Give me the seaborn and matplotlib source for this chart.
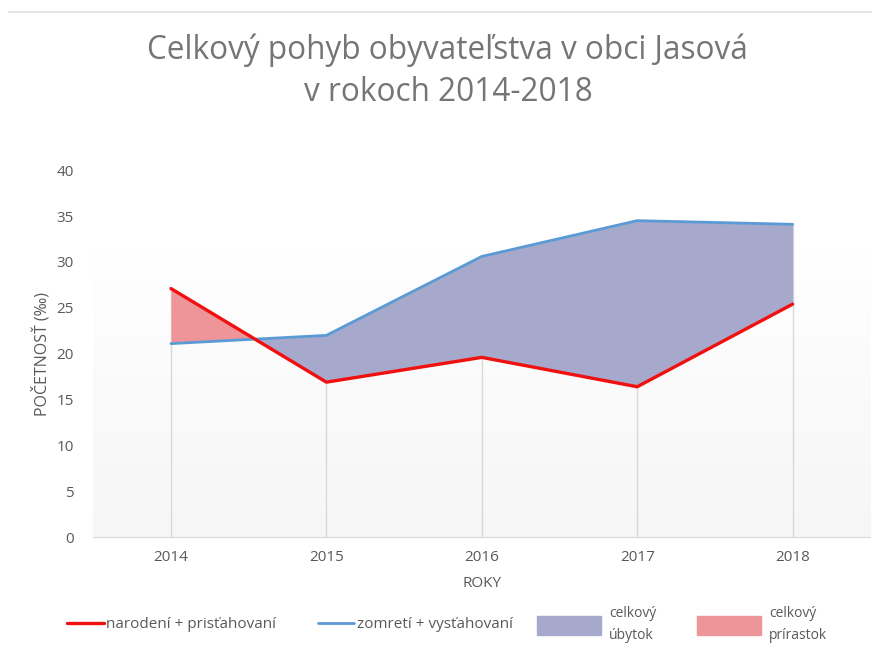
import numpy as np
import pandas as pd
import seaborn as sns
from matplotlib import pyplot as plt
from matplotlib.lines import Line2D
from matplotlib.patches import Patch

years = [2014, 2015, 2016, 2017, 2018]
narodeni = [27.1, 16.9, 19.6, 16.4, 25.4]   # narodení + prisťahovaní
zomreti = [21.1, 22.0, 30.6, 34.5, 34.1]    # zomretí + vysťahovaní
y_ticks = [0, 5, 10, 15, 20, 25, 30, 35, 40]

sns.set_style("white")
plt.rcParams['font.family'] = ['Open Sans', 'DejaVu Sans']

gray = '#595959'
red = '#f01010'
blue = '#5b9bd5'
fill_ubytok = '#a6a8cc'
fill_prirastok = '#ee9599'

df = pd.DataFrame({'rok': years, 'narodeni': narodeni, 'zomreti': zomreti})

fig = plt.figure(figsize=(8.8, 6.52), dpi=100)
ax = fig.add_axes([0.106, 0.176, 0.883, 0.563])

# gradient plot-area background (white at top -> light grey at bottom)
grad = np.linspace(0, 1, 256).reshape(-1, 1)
ax.imshow(grad, extent=[2013.5, 2018.5, 0, 33], aspect='auto', cmap='Greys',
          vmin=0, vmax=13, zorder=0, origin='upper')

# drop lines
ax.vlines(df['rok'], 0, np.maximum(df['narodeni'], df['zomreti']),
          color='#d9d9d9', lw=1, zorder=1)

ax.fill_between(df['rok'], df['narodeni'], df['zomreti'],
                where=df['zomreti'] >= df['narodeni'], interpolate=True,
                color=fill_ubytok, lw=0, zorder=2)
ax.fill_between(df['rok'], df['narodeni'], df['zomreti'],
                where=df['narodeni'] >= df['zomreti'], interpolate=True,
                color=fill_prirastok, lw=0, zorder=2)

sns.lineplot(data=df, x='rok', y='zomreti', color=blue, lw=2, ax=ax, zorder=3)
sns.lineplot(data=df, x='rok', y='narodeni', color=red, lw=2.4, ax=ax, zorder=4)

ax.set_xlim(2013.5, 2018.5)
ax.set_ylim(0, 40)
ax.set_xticks(years)
ax.set_xticklabels([str(y) for y in years])
ax.set_yticks(y_ticks)
ax.tick_params(axis='both', colors=gray, labelsize=11, length=0)
ax.tick_params(axis='x', pad=9)
ax.tick_params(axis='y', pad=14)
for s in ['top', 'right', 'left']:
    ax.spines[s].set_visible(False)
ax.spines['bottom'].set_color('#d9d9d9')
ax.set_xlabel('ROKY', color=gray, fontsize=11, labelpad=8)
ax.set_ylabel('POČETNOSŤ (‰)', color=gray, fontsize=11.5, labelpad=4)

fig.text(0.509, 0.948, 'Celkový pohyb obyvateľstva v obci Jasová\nv rokoch 2014-2018',
         ha='center', va='top', fontsize=22.7, color='#757575', linespacing=1.35)

# thin line on top of chart
fig.add_artist(Line2D([0.01, 0.99], [0.982, 0.982], color='#e0e0e0', lw=1.2))

h_lines = [Line2D([], [], color=red, lw=2.4), Line2D([], [], color=blue, lw=2)]
leg1 = fig.legend(h_lines, ['narodení + prisťahovaní', 'zomretí + vysťahovaní'],
                  loc='center left', bbox_to_anchor=(0.061, 0.042), ncol=2,
                  frameon=False, handlelength=2.4, handletextpad=0.15,
                  columnspacing=2.7, fontsize=11, labelcolor=gray)
h_patch = [Patch(color=fill_ubytok), Patch(color=fill_prirastok)]
leg2 = fig.legend(h_patch, ['celkový\núbytok', 'celkový\nprírastok'],
                  loc='center left', bbox_to_anchor=(0.596, 0.042), ncol=2,
                  frameon=False, handlelength=4.6, handleheight=1.8,
                  handletextpad=0.6, columnspacing=2.9, fontsize=10, labelcolor=gray)
for t in leg2.get_texts():
    t.set_linespacing(1.6)

fig.savefig('out.png', dpi=100, facecolor='white')
